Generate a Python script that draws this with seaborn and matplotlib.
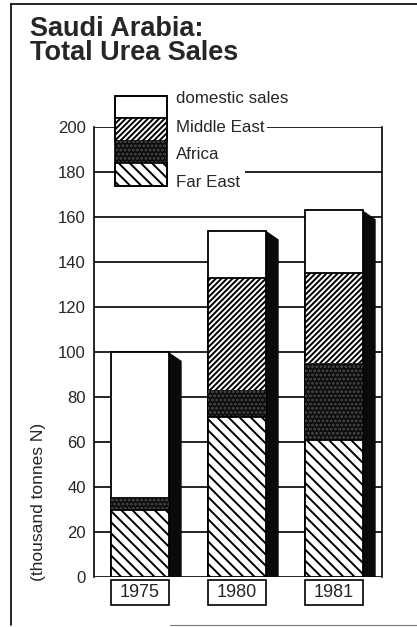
import numpy as np
import pandas as pd
import seaborn as sns
import matplotlib.pyplot as plt
from matplotlib.patches import Rectangle
from matplotlib.lines import Line2D

# Data (thousand tonnes N)
years = ['1975', '1980', '1981']
far_east = [30, 71, 61]
africa = [5, 12, 34]
middle_east = [0, 50, 40]
domestic = [65, 21, 28]

legend_labels = ['domestic sales', 'Middle East', 'Africa', 'Far East']

sns.set_style('white')
plt.rcParams['font.family'] = ['Liberation Sans', 'DejaVu Sans']
plt.rcParams['hatch.linewidth'] = 1.4

df = pd.DataFrame({'year': years, 'far_east': far_east, 'africa': africa,
                   'middle_east': middle_east, 'domestic': domestic})
df['c_fe'] = df['far_east']
df['c_af'] = df['c_fe'] + df['africa']
df['c_me'] = df['c_af'] + df['middle_east']
df['c_dom'] = df['c_me'] + df['domestic']

fig = plt.figure(figsize=(4.17, 6.27), dpi=100)
ax = fig.add_axes([94 / 417, 1 - 577 / 627, 288 / 417, 450 / 627])

bw = 0.59
fe_hatch = '\\\\\\'
me_hatch = '//////'
af_hatch = '....'
af_col, af_speck = '#0c0c0c', '#4a4a4a'

# stacked bars drawn as cumulative layers, largest first
sns.barplot(data=df, x='year', y='c_dom', ax=ax, color='white', saturation=1,
            width=bw, edgecolor='black', linewidth=1.3, zorder=3)
sns.barplot(data=df, x='year', y='c_me', ax=ax, color='white', saturation=1,
            width=bw, edgecolor='black', linewidth=1.3, hatch=me_hatch, zorder=3)
sns.barplot(data=df, x='year', y='c_af', ax=ax, color=af_col, saturation=1,
            width=bw, edgecolor=af_speck, linewidth=0, hatch=af_hatch, zorder=3)
sns.barplot(data=df, x='year', y='c_fe', ax=ax, color='white', saturation=1,
            width=bw, edgecolor='black', linewidth=1.3, hatch=fe_hatch, zorder=3)

# dark side shading of each bar
dx, slant = 0.135, 4
for i, tot in enumerate(df['c_dom']):
    x0 = i + bw / 2
    ax.fill([x0, x0 + dx, x0 + dx, x0], [tot, tot - slant, 0, 0],
            color='#0a0a0a', lw=0, zorder=2.5)

ax.set_xlim(-0.474, 2.495)
ax.set_ylim(0, 200)
ax.set_yticks(range(0, 201, 20))
ax.yaxis.grid(True, color='black', linewidth=1.2, zorder=0)
ax.xaxis.grid(False)
ax.set_axisbelow(True)
ax.tick_params(axis='y', length=0, pad=6, labelsize=12)
ax.tick_params(axis='x', length=0, labelbottom=False)
ax.set_xlabel('')
ax.set_ylabel('(thousand tonnes N)', fontsize=12.5)
ax.yaxis.set_label_coords(-0.165, 0.167)
for s in ['top', 'bottom']:
    ax.spines[s].set_visible(False)
for s in ['left', 'right']:
    ax.spines[s].set_color('black')
    ax.spines[s].set_linewidth(1.2)

# year boxes under the bars
ax.bar(range(len(years)), [-11.1] * len(years), bottom=-1.3, width=bw,
       color='white', edgecolor='black', linewidth=1.2, clip_on=False, zorder=3)
for i, y in enumerate(years):
    ax.text(i, -6.9, y, ha='center', va='center', fontsize=13, zorder=4)

# legend drawn as a stacked swatch
styles = [dict(facecolor='white', hatch=None),
          dict(facecolor='white', hatch=me_hatch),
          dict(facecolor=af_col, hatch=af_hatch),
          dict(facecolor='white', hatch=fe_hatch)]
ax.add_patch(Rectangle((0.255, 0.87), 0.27, 0.2, transform=ax.transAxes,
                       facecolor='white', edgecolor='none', clip_on=False, zorder=4))
lx0, lx1 = 0.073, 0.253
ytop, h = 1.069, 0.05
text_y = [1.064, 1.0, 0.938, 0.876]
for k, (lab, st) in enumerate(zip(legend_labels, styles)):
    yb = ytop - (k + 1) * h
    ec = af_speck if k == 2 else 'black'
    ax.add_patch(Rectangle((lx0, yb), lx1 - lx0, h, transform=ax.transAxes,
                           facecolor=st['facecolor'], hatch=st['hatch'],
                           edgecolor=ec, lw=0 if k == 2 else 1.2,
                           clip_on=False, zorder=5))
    ax.text(0.285, text_y[k], lab, transform=ax.transAxes, fontsize=12.2,
            va='center', ha='left', zorder=6,
            bbox=dict(facecolor='white', edgecolor='none', pad=1.5))
ax.add_patch(Rectangle((lx0, ytop - 4 * h), lx1 - lx0, 4 * h, transform=ax.transAxes,
                       facecolor='none', edgecolor='black', lw=1.2,
                       clip_on=False, zorder=6))

fig.text(30 / 417, 1 - 36 / 627, 'Saudi Arabia:', fontsize=19.5,
         fontweight='bold', va='baseline', ha='left')
fig.text(30 / 417, 1 - 60 / 627, 'Total Urea Sales', fontsize=19.5,
         fontweight='bold', va='baseline', ha='left')

# page frame
fig.add_artist(Line2D([11 / 417, 11 / 417], [0.003, 1 - 4 / 627], color='black', lw=1.2))
fig.add_artist(Line2D([11 / 417, 1], [1 - 4 / 627, 1 - 4 / 627], color='black', lw=1.2))
fig.add_artist(Line2D([170 / 417, 1], [0.003, 0.003], color='#777777', lw=0.8))

fig.savefig('out.png', dpi=100)
